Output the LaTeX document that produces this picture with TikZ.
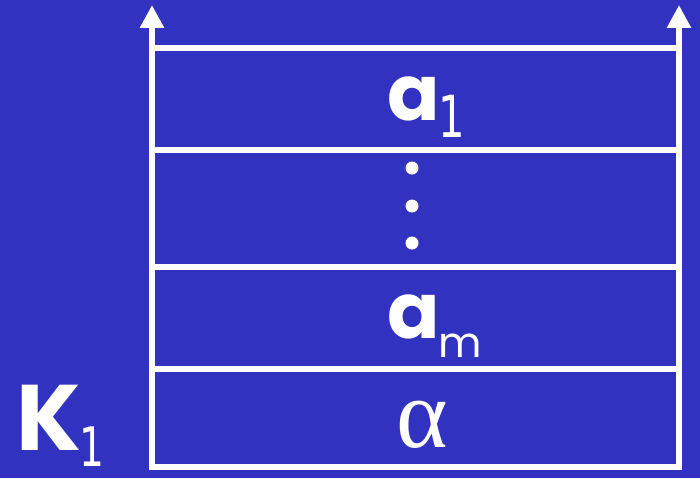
\documentclass[tikz,border=0pt]{standalone}
\usepackage{fontspec}
\setmainfont{Poppins}
\newfontfamily\greekfont{Liberation Serif}
\newfontfamily\digitfont{DejaVu Sans}
\usetikzlibrary{arrows.meta, positioning}
\definecolor{slideblue}{RGB}{50,50,192}
\newcommand{\lowsub}[3][10pt]{\raisebox{-#1}{\fontsize{#2}{#2}\selectfont\mdseries #3}}
\newcommand{\slimone}[1][0pt]{\kern#1\scalebox{0.72}[1]{\digitfont 1}}

\begin{document}
\begin{tikzpicture}[x=0.02cm, y=-0.02cm,
    axis/.style={-{Triangle[width=13pt, length=13pt]}, line width=3.8pt, white},
    level/.style={line width=3.8pt, white},
    sym/.style={text=white, inner sep=0pt, font=\fontsize{44}{46}\selectfont\bfseries}
  ]
    \fill[slideblue] (0,0) rectangle (700,478);
    \useasboundingbox (0,0) rectangle (700,478);
    % stack levels
    \foreach \y [count=\i] in {48,150,267,369,467}{
      \coordinate (l\i) at (152,\y);
      \coordinate (r\i) at (679,\y);
      \draw[level] (l\i) -- (r\i);
    }
    % the two axes
    \coordinate (ltop) at (152,5);
    \coordinate (rtop) at (679,5);
    \coordinate (lbot) at (152,470);
    \coordinate (rbot) at (679,470);
    \draw[axis] (lbot) -- (ltop);
    \draw[axis] (rbot) -- (rtop);
    % contents
    \node[sym, anchor=base west] (a1) at (387,120) {a\lowsub[10.2pt]{33}{\slimone[-0.5pt]}};
    \foreach \y [count=\k] in {168,206,243}{
      \fill[white] (412,\y) circle (6.5);
    }
    \node[sym, anchor=base west] (am) at (387,338) {a\lowsub[11pt]{24}{\kern-1pt m}};
    \node[text=white, inner sep=0pt, anchor=base, font=\greekfont\fontsize{56}{58}\selectfont] (alpha) at (422,447) {α};
    \node[sym, anchor=base west, font=\fontsize{53}{55}\selectfont\bfseries] (k1) at (16,450) {K\lowsub[9.6pt]{31}{\slimone[-1pt]}};
\end{tikzpicture}
\end{document}
